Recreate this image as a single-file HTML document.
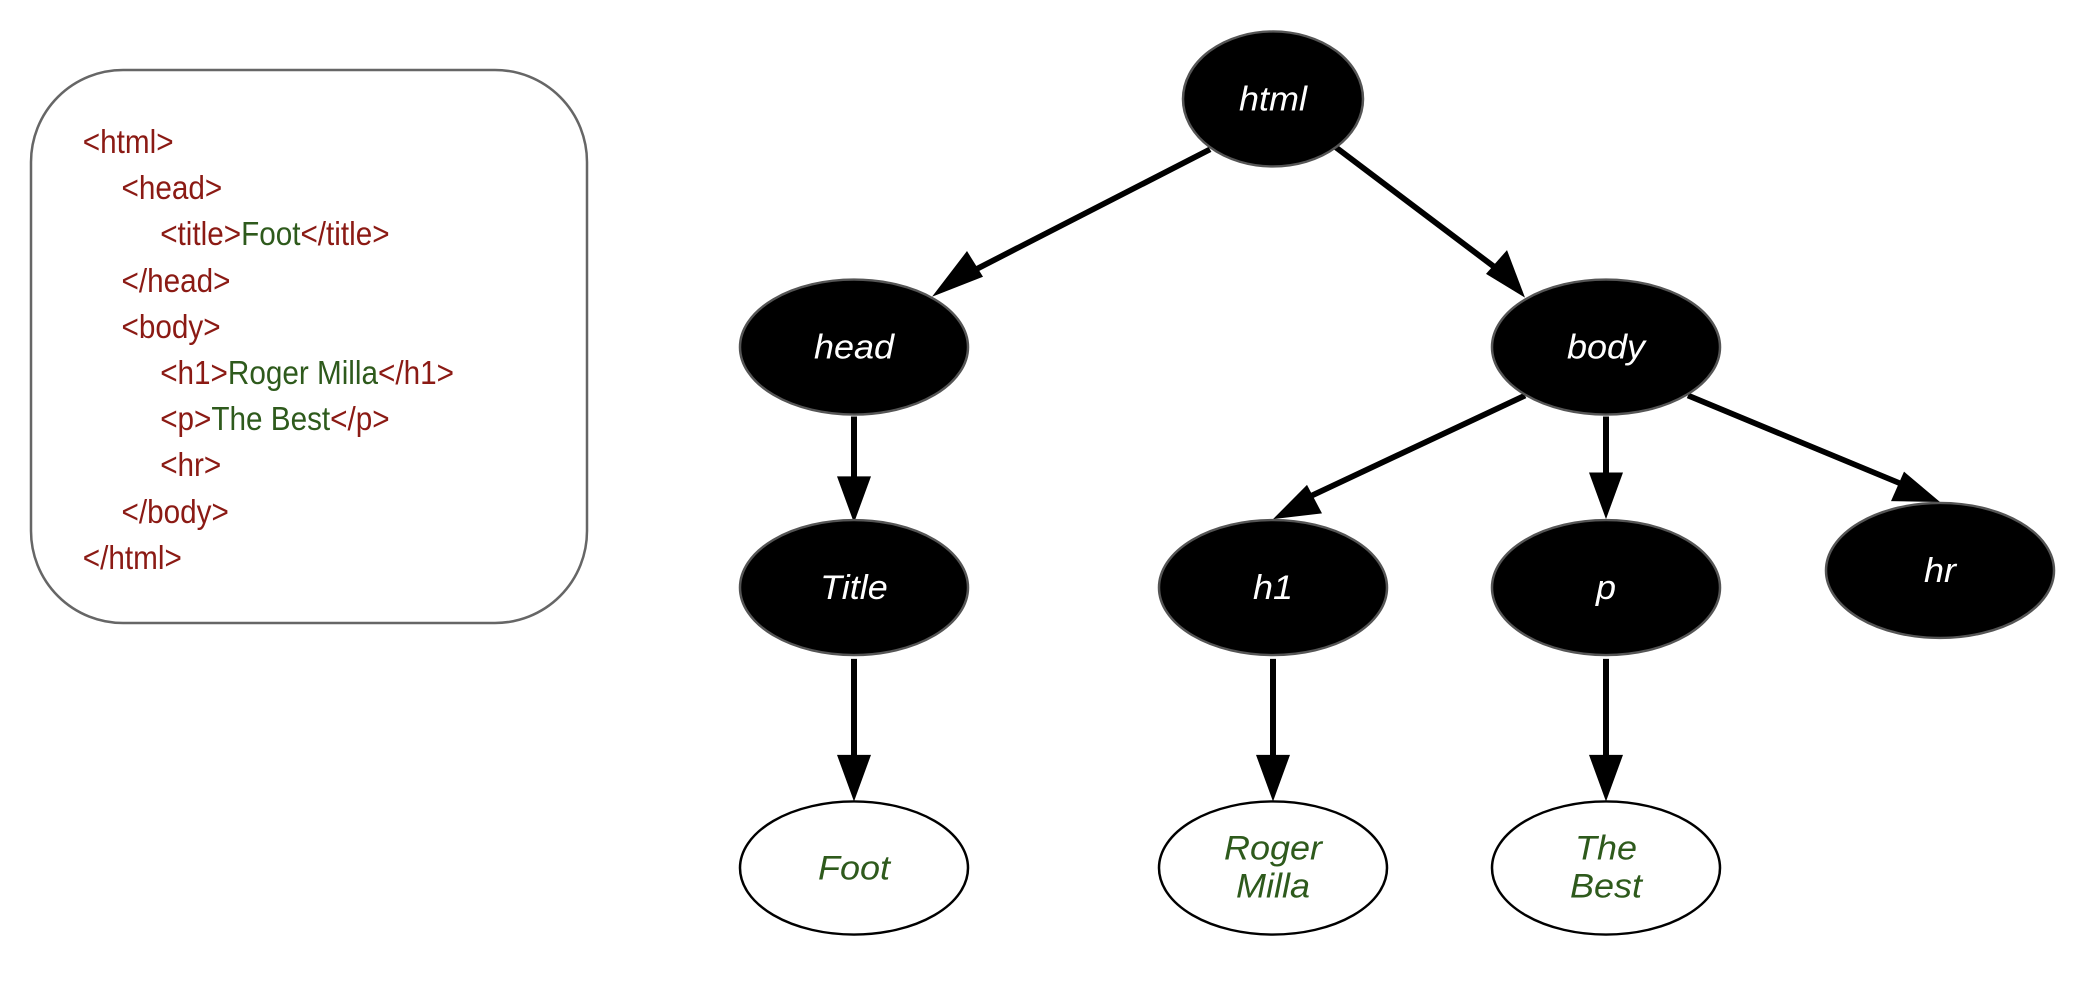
<!DOCTYPE html>
<html><head><meta charset="utf-8"><style>
html,body{margin:0;padding:0;background:#fff;}
svg{display:block}
.code{font-family:"Liberation Sans",sans-serif;font-size:33px;fill:#8b1a14;}
.g{fill:#2e5a1c}
.nl{font-family:"Liberation Sans",sans-serif;font-style:italic;font-size:36px;fill:#fff;text-anchor:middle;}
.ll{font-family:"Liberation Sans",sans-serif;font-style:italic;font-size:36px;fill:#2e5a1c;text-anchor:middle;}
</style></head><body>
<svg width="2080" height="986" viewBox="0 0 2080 986" xmlns="http://www.w3.org/2000/svg">
<rect x="31" y="70" width="556" height="553" rx="92" ry="92" fill="#fff" stroke="#666" stroke-width="2.5"/>
<g class="code" transform="scale(0.9,1)">
<text x="92" y="153">&lt;html&gt;</text>
<text x="135" y="199">&lt;head&gt;</text>
<text x="178" y="245">&lt;title&gt;<tspan class="g">Foot</tspan>&lt;/title&gt;</text>
<text x="135" y="292">&lt;/head&gt;</text>
<text x="135" y="338">&lt;body&gt;</text>
<text x="178" y="384">&lt;h1&gt;<tspan class="g">Roger Milla</tspan>&lt;/h1&gt;</text>
<text x="178" y="430">&lt;p&gt;<tspan class="g">The Best</tspan>&lt;/p&gt;</text>
<text x="178" y="476">&lt;hr&gt;</text>
<text x="135" y="523">&lt;/body&gt;</text>
<text x="92" y="569">&lt;/html&gt;</text>
</g>
<g transform="matrix(1,0,0,0.9506,-2,-1.8)">
<g stroke="#000" stroke-width="6" fill="none">
<line x1="1212" y1="159" x2="958" y2="296"/>
<line x1="1338" y1="157" x2="1508" y2="292"/>
<line x1="856" y1="440" x2="856" y2="510"/>
<line x1="856" y1="695" x2="856" y2="800"/>
<line x1="1527" y1="418" x2="1300" y2="530"/>
<line x1="1608" y1="440" x2="1608" y2="505"/>
<line x1="1690" y1="418" x2="1915" y2="516"/>
<line x1="1275" y1="695" x2="1275" y2="800"/>
<line x1="1608" y1="695" x2="1608" y2="800"/>
</g>
<g fill="#000">
<polygon points="934,314 985,293 969,266"/>
<polygon points="1527,315 1509,265 1488,290"/>
<polygon points="856,552 839,503 873,503"/>
<polygon points="856,845 839,796 873,796"/>
<polygon points="1275,548 1324,542 1309,512"/>
<polygon points="1608,548 1591,499 1625,499"/>
<polygon points="1942,530 1906,498 1893,529"/>
<polygon points="1275,845 1258,796 1292,796"/>
<polygon points="1608,845 1591,796 1625,796"/>
</g>
<g fill="#000" stroke="#555" stroke-width="2.5">
<ellipse cx="1275" cy="106" rx="90" ry="71"/>
<ellipse cx="856" cy="367" rx="114" ry="71"/>
<ellipse cx="1608" cy="367" rx="114" ry="71"/>
<ellipse cx="856" cy="620" rx="114" ry="71"/>
<ellipse cx="1275" cy="620" rx="114" ry="71"/>
<ellipse cx="1608" cy="620" rx="114" ry="71"/>
<ellipse cx="1942" cy="602" rx="114" ry="71"/>
</g>
<g fill="#fff" stroke="#000" stroke-width="2.5">
<ellipse cx="856" cy="915" rx="114" ry="70"/>
<ellipse cx="1275" cy="915" rx="114" ry="70"/>
<ellipse cx="1608" cy="915" rx="114" ry="70"/>
</g>
<text class="nl" x="1275" y="118">html</text>
<text class="nl" x="856" y="379">head</text>
<text class="nl" x="1608" y="379">body</text>
<text class="nl" x="856" y="632">Title</text>
<text class="nl" x="1275" y="632">h1</text>
<text class="nl" x="1608" y="632">p</text>
<text class="nl" x="1942" y="614">hr</text>
<text class="ll" x="856" y="927">Foot</text>
<text class="ll" x="1275" y="906">Roger</text>
<text class="ll" x="1275" y="946">Milla</text>
<text class="ll" x="1608" y="906">The</text>
<text class="ll" x="1608" y="946">Best</text>
</g>
</svg>
</body></html>
